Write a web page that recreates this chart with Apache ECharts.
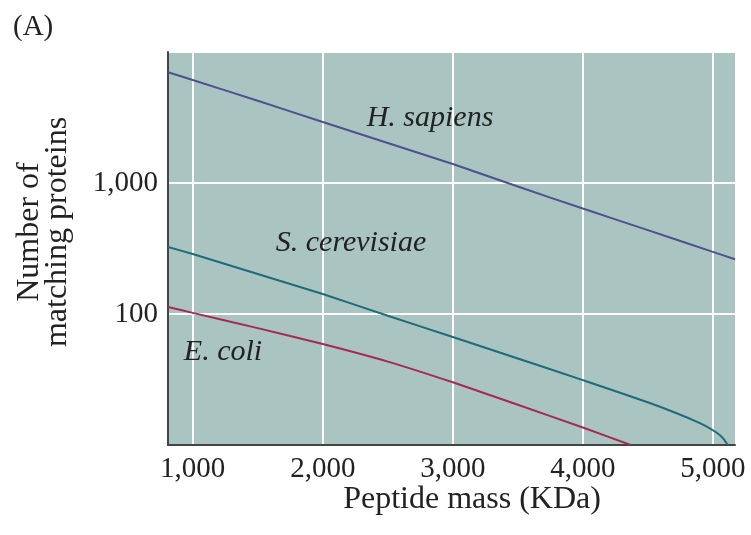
<!DOCTYPE html>
<html>
<head>
<meta charset="utf-8">
<script src="https://cdn.jsdelivr.net/npm/echarts@6/dist/echarts.min.js"></script>
<style>html,body{margin:0;padding:0;background:#fff;}#c{width:751px;height:535px;}</style>
</head>
<body>
<div id="c"></div>
<script>
// Peptide mass (KDa) vs number of matching proteins
const xTicks = [1000, 2000, 3000, 4000, 5000];
const yTicks = [100, 1000];
const hSapiens = [[810,7000],[1000,6110],[1500,4240],[2000,2925],[2500,2020],[3000,1397],[3500,940],[4000,638],[4500,437],[5000,298],[5170,262]];
const sCerevisiae = [[810,325],[1000,287],[1500,202],[2000,142],[2500,97],[3000,66.7],[3500,45.8],[4000,31.3],[4515,20.9],[4900,14.7],[5030,12.4],[5080,11.2],[5115,10]];
const eColi = [[810,113],[1000,102],[1500,78],[2000,59],[2500,43.3],[3000,30.1],[3500,20.3],[4000,13.6],[4369,10]];
const seriesNames = ['H. sapiens', 'S. cerevisiae', 'E. coli'];

const FONT = '"Liberation Serif", "DejaVu Serif", serif';
const chart = echarts.init(document.getElementById('c'), null, {renderer: 'canvas'});
const fmt = v => String(Math.round(v)).replace(/\B(?=(\d{3})+(?!\d))/g, ',');

chart.setOption({
  animation: false,
  grid: {left: 168, right: 16, top: 52, bottom: 90, show: true, backgroundColor: '#a9c4c1', borderWidth: 0},
  xAxis: {
    type: 'value', min: 810, max: 5170,
    axisLine: {show: true, lineStyle: {color: '#444', width: 2}},
    axisTick: {show: false, customValues: xTicks},
    axisLabel: {customValues: xTicks, formatter: fmt, color: '#222', fontFamily: FONT, fontSize: 29, margin: 10},
    splitLine: {show: true, lineStyle: {color: '#ffffff', width: 2}}
  },
  yAxis: {
    type: 'log', logBase: 10, min: 10, max: 10000,
    axisLine: {show: true, lineStyle: {color: '#444', width: 2}},
    axisTick: {show: false},
    axisLabel: {color: '#222', fontFamily: FONT, fontSize: 29, margin: 10,
      formatter: v => (yTicks.indexOf(Math.round(v)) >= 0 ? fmt(v) : '')},
    splitLine: {show: true, lineStyle: {color: '#ffffff', width: 2}}
  },
  series: [
    {name: seriesNames[0], type: 'line', data: hSapiens, smooth: 0.2, symbol: 'none', lineStyle: {color: '#4f508e', width: 2}},
    {name: seriesNames[1], type: 'line', data: sCerevisiae, smooth: 0.2, symbol: 'none', lineStyle: {color: '#1f6b7a', width: 2}},
    {name: seriesNames[2], type: 'line', data: eColi, smooth: 0.2, symbol: 'none', lineStyle: {color: '#a52a50', width: 2}}
  ],
  graphic: [
    {type: 'text', z: 100, left: 13, top: 13, style: {text: '(A)', font: '29px ' + FONT, fill: '#222'}},
    {type: 'text', z: 100, x: 430, y: 118, style: {text: seriesNames[0], font: 'italic 30px ' + FONT, fill: '#222', align: 'center', verticalAlign: 'middle'}},
    {type: 'text', z: 100, x: 351, y: 243, style: {text: seriesNames[1], font: 'italic 30px ' + FONT, fill: '#222', align: 'center', verticalAlign: 'middle'}},
    {type: 'text', z: 100, x: 223, y: 352, style: {text: seriesNames[2], font: 'italic 30px ' + FONT, fill: '#222', align: 'center', verticalAlign: 'middle'}},
    {type: 'text', z: 100, x: 472, y: 500, style: {text: 'Peptide mass (KDa)', font: '32px ' + FONT, fill: '#222', align: 'center', verticalAlign: 'middle'}},
    {type: 'text', z: 100, x: 44, y: 232, rotation: Math.PI / 2, style: {text: 'Number of\nmatching proteins', font: '32px ' + FONT, lineHeight: 28, fill: '#222', align: 'center', verticalAlign: 'middle'}}
  ]
});
</script>
</body>
</html>
